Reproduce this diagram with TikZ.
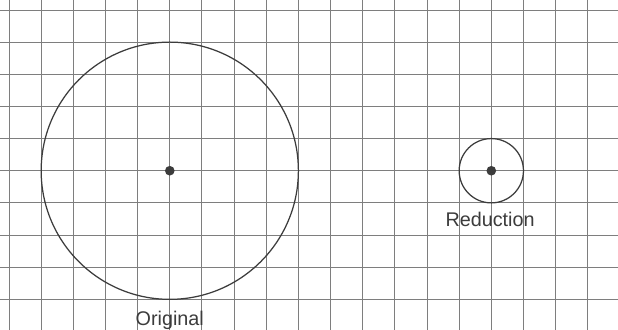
\documentclass[tikz,border=0pt]{standalone}
\usepackage{fontspec}
\setmainfont{Liberation Sans}
\usepackage{xcolor}
\usetikzlibrary{positioning}
\definecolor{gridgray}{HTML}{7E7E7E}
\definecolor{inkgray}{HTML}{3C3C3C}
\tikzset{
  gridln/.style={draw=gridgray,line width=0.8pt},
  ring/.style={draw=inkgray,line width=1.1pt},
  pin/.style={circle,fill=inkgray,inner sep=0pt,minimum size=3mm},
  lbl/.style={font=\fontsize{17.5}{20}\selectfont\color{inkgray},inner sep=0pt,anchor=base},
}
\begin{document}
\begin{tikzpicture}[x=1cm,y=1cm]
\useasboundingbox[fill=white] (-0.28,0.31) rectangle (18.94,-9.95);
\foreach \i in {0,...,18} { \draw[gridln] (\i,0.31) -- (\i,-9.95); }
\foreach \j in {0,...,9} { \draw[gridln] (-0.28,-\j) -- (18.94,-\j); }
% original and its reduction
\node[pin] (origc) at (5,-5) {};
\draw[ring] (origc.center) circle (4);
\node[pin] (redc) at (15,-5) {};
\draw[ring] (redc.center) circle (1);
\node[lbl] (redlbl) at (14.96,-6.74) {Reduction};
\node[lbl] (origlbl) at (5,-9.81) {Original};
\end{tikzpicture}
\end{document}
